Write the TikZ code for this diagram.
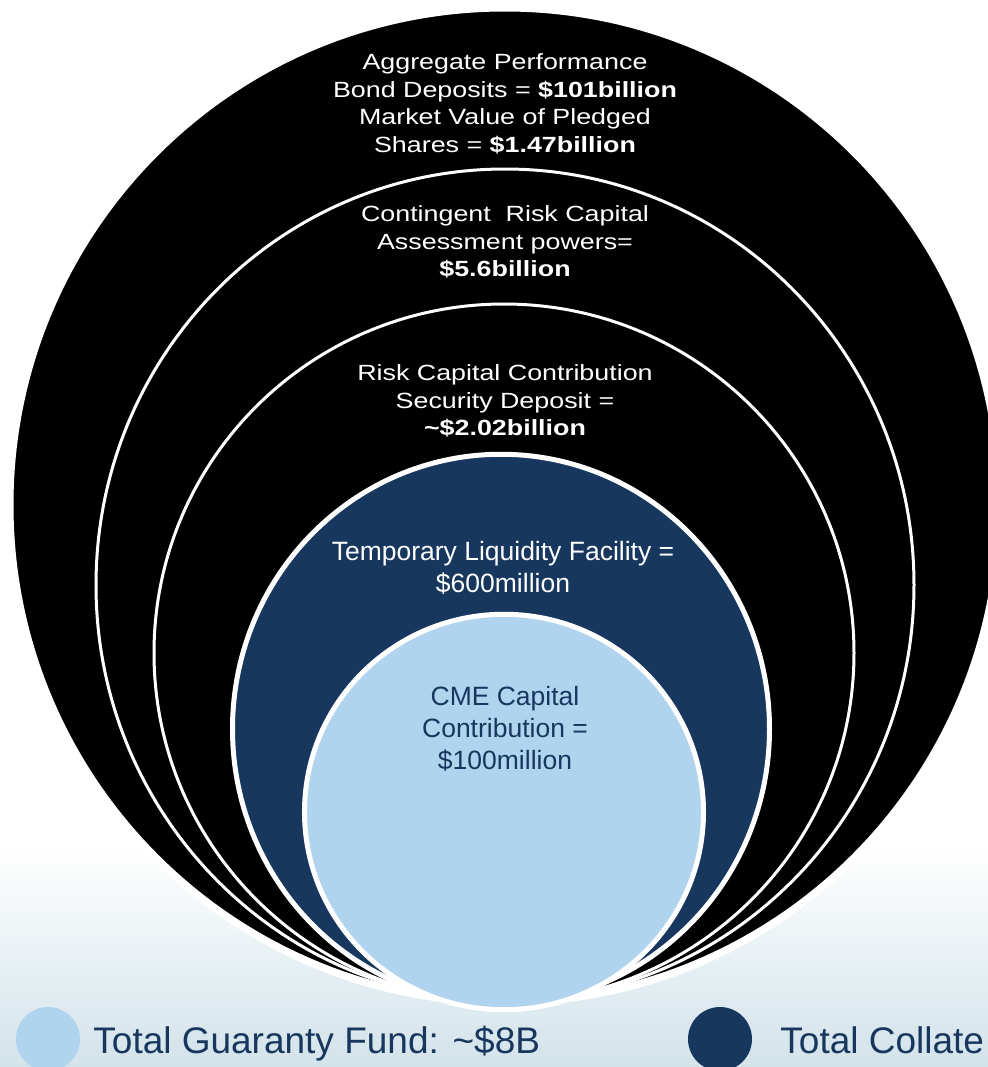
\documentclass[tikz,border=0pt]{standalone}
\usepackage{fontspec}
\setmainfont{Liberation Sans}
\newfontfamily\ringfont{Liberation Sans}[FakeStretch=1.22]
\definecolor{navy}{HTML}{17375E}
\definecolor{sky}{HTML}{B0D4EE}
\definecolor{mist}{HTML}{D2E3EA}
\tikzset{
  ring/.style={fill=black, draw=white, line width=1.5pt},
  disk/.style={draw=white, line width=2.5pt},
  ringtext/.style={text=white, align=center, inner sep=0pt,
    font=\ringfont\fontsize{11}{13.75}\selectfont},
  disktext/.style={align=center, inner sep=0pt,
    font=\fontsize{13.25}{16}\selectfont},
  dot/.style={circle, minimum size=32pt, inner sep=0pt},
  legtext/.style={text=navy, anchor=base west, inner sep=0pt,
    font=\fontsize{18.5}{22}\selectfont},
}
\begin{document}
\begin{tikzpicture}[x=0.5pt, y=-0.5pt, line join=round]
\def\W{988}
\def\H{1067}
\useasboundingbox (0,0) rectangle (\W,\H);
% background
\fill[white] (0,0) rectangle (\W,\H);
\shade[top color=white, bottom color=mist] (0,845) rectangle (\W,\H);
\path
(505,505) coordinate (O1)
(505,585) coordinate (O2)
(504,653) coordinate (O3)
(501,729) coordinate (O4)
(504,812) coordinate (O5)
;
% nested circles, all touching at the bottom
\draw[white, line width=6pt] (O1) ellipse [x radius=493, y radius=495];
\draw[ring] (O1) ellipse [x radius=493, y radius=495];
\draw[ring] (O2) ellipse [x radius=409, y radius=416];
\draw[ring] (O3) ellipse [x radius=350, y radius=349];
\draw[disk, fill=navy] (O4) ellipse [x radius=268.5, y radius=274.75];
\draw[disk, fill=sky] (O5) ellipse [x radius=199.5, y radius=197.75];
% labels
\path
(505,104) node[ringtext] (bondlbl) {Aggregate Performance\\
  Bond Deposits = \textbf{\$101billion}\\
  Market Value of Pledged\\
  Shares = \textbf{\$1.47billion}}
(505,242) node[ringtext] (assesslbl) {Contingent\ \ Risk Capital\\
  Assessment powers=\\
  \textbf{\$5.6billion}}
(505,401) node[ringtext] (depositlbl) {Risk Capital Contribution\\
  Security Deposit =\\
  \textbf{\textasciitilde\$2.02billion}}
(503,568) node[disktext, text=white] (tlflbl) {Temporary Liquidity Facility =\\
  \$600million}
(505,729) node[disktext, text=navy] (cmelbl) {CME Capital\\
  Contribution =\\
  \$100million}
;
% legend
\node[dot, fill=sky] (gfdot) at (48,1039) {};
\node[legtext] (gflbl) at (93,1053) {Total Guaranty Fund: \textasciitilde\$8B};
\node[dot, fill=navy] (coldot) at (720,1039) {};
\node[legtext] (collbl) at (780,1053) {Total Collate};
\end{tikzpicture}
\end{document}
